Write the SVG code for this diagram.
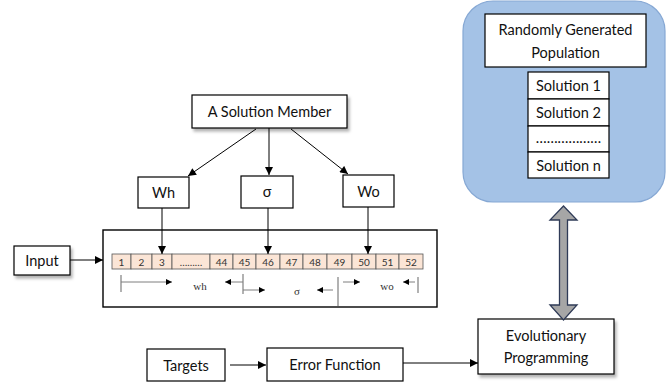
<svg xmlns="http://www.w3.org/2000/svg" width="668" height="383" viewBox="0 0 668 383">
  <defs>
    <style>
      .box { fill: #ffffff; stroke: #000000; stroke-width: 1.2; }
      .lbl { font-family: Lato, "Liberation Sans", sans-serif; font-size: 14.5px; fill: #111111; text-anchor: middle; dominant-baseline: central; }
      .cell { fill: #fbe5d6; stroke: #555555; stroke-width: 0.8; }
      .num { font-family: Lato, "Liberation Sans", sans-serif; font-size: 10px; fill: #333333; text-anchor: middle; dominant-baseline: central; }
      .span { font-family: "Liberation Serif", serif; font-size: 11px; fill: #333333; text-anchor: middle; dominant-baseline: central; }
      .wire { fill: none; stroke: #000000; stroke-width: 1; }
      .guide { fill: none; stroke: #7f7f7f; stroke-width: 1; }
      .tick { fill: none; stroke: #7f7f7f; stroke-width: 1.2; }
    </style>
    <marker id="head" viewBox="0 0 10 10" refX="10" refY="5" markerWidth="9" markerHeight="8" markerUnits="userSpaceOnUse" orient="auto">
      <path d="M0,0 L10,5 L0,10 Z" fill="#000000"/>
    </marker>
    <marker id="small" viewBox="0 0 10 10" refX="10" refY="5" markerWidth="7" markerHeight="6" markerUnits="userSpaceOnUse" orient="auto">
      <path d="M0,0 L10,5 L0,10 Z" fill="#000000"/>
    </marker>
    <filter id="shadow" x="-10%" y="-20%" width="130%" height="160%">
      <feDropShadow dx="2" dy="3" stdDeviation="1.6" flood-color="#000000" flood-opacity="0.3"/>
    </filter>
  </defs>

  <rect width="668" height="383" fill="#ffffff"/>

  <!-- population panel -->
  <g id="population">
    <rect x="463" y="1" width="202" height="201" rx="30" ry="30" fill="#a4c2e6" stroke="#86a8d4" stroke-width="1.2"/>
    <rect class="box" x="485" y="14" width="161" height="53"/>
    <text class="lbl" x="565.5" y="29">Randomly Generated</text>
    <text class="lbl" x="565.5" y="52">Population</text>
    <rect class="box" x="528" y="72" width="81" height="27"/>
    <text class="lbl" x="568.5" y="85.5">Solution 1</text>
    <rect class="box" x="528" y="99" width="81" height="27"/>
    <text class="lbl" x="568.5" y="112.5">Solution 2</text>
    <rect class="box" x="528" y="126" width="81" height="26"/>
    <text class="lbl" x="568.5" y="137">………………</text>
    <rect class="box" x="528" y="152" width="81" height="26"/>
    <text class="lbl" x="568.5" y="165">Solution n</text>
  </g>

  <!-- solution member and its parts -->
  <g id="solution-member">
    <rect class="box" x="192" y="95" width="155" height="33" filter="url(#shadow)"/>
    <text class="lbl" x="269.5" y="111.5">A Solution Member</text>
  </g>
  <g id="wh">
    <rect class="box" x="138" y="177" width="51" height="31"/>
    <text class="lbl" x="163.5" y="192.5">Wh</text>
  </g>
  <g id="sigma">
    <rect class="box" x="241" y="176" width="52" height="32"/>
    <text class="lbl" x="267" y="191.5">σ</text>
  </g>
  <g id="wo">
    <rect class="box" x="343" y="175" width="51" height="32"/>
    <text class="lbl" x="368.5" y="191">Wo</text>
  </g>

  <!-- encoded vector -->
  <g id="vector">
    <rect x="103" y="230" width="334" height="77" fill="#ffffff" stroke="#000000" stroke-width="1.4"/>
    <rect class="cell" x="112" y="254" width="19" height="15"/>
    <rect class="cell" x="131" y="254" width="21" height="15"/>
    <rect class="cell" x="152" y="254" width="20" height="15"/>
    <rect class="cell" x="172" y="254" width="38" height="15"/>
    <rect class="cell" x="210" y="254" width="23" height="15"/>
    <rect class="cell" x="233" y="254" width="23" height="15"/>
    <rect class="cell" x="256" y="254" width="24" height="15"/>
    <rect class="cell" x="280" y="254" width="23" height="15"/>
    <rect class="cell" x="303" y="254" width="24" height="15"/>
    <rect class="cell" x="327" y="254" width="25" height="15"/>
    <rect class="cell" x="352" y="254" width="24" height="15"/>
    <rect class="cell" x="376" y="254" width="23" height="15"/>
    <rect class="cell" x="399" y="254" width="24" height="15"/>
    <text class="num" x="121.5" y="261.5">1</text>
    <text class="num" x="141.5" y="261.5">2</text>
    <text class="num" x="162" y="261.5">3</text>
    <text class="num" x="191" y="261.5">………</text>
    <text class="num" x="221.5" y="261.5">44</text>
    <text class="num" x="244.5" y="261.5">45</text>
    <text class="num" x="268" y="261.5">46</text>
    <text class="num" x="291.5" y="261.5">47</text>
    <text class="num" x="315" y="261.5">48</text>
    <text class="num" x="339.5" y="261.5">49</text>
    <text class="num" x="364" y="261.5">50</text>
    <text class="num" x="387.5" y="261.5">51</text>
    <text class="num" x="411" y="261.5">52</text>

    <!-- index ranges -->
    <path class="tick" d="M121,275 V292"/>
    <path class="guide" d="M121,282 H172" marker-end="url(#small)"/>
    <text class="span" x="200" y="286">wh</text>
    <path class="guide" d="M243,282 H225" marker-end="url(#small)"/>
    <path class="tick" d="M243,274 V294"/>
    <path class="guide" d="M243,290 H265" marker-end="url(#small)"/>
    <text class="span" x="297" y="291">σ</text>
    <path class="guide" d="M333,290 H317" marker-end="url(#small)"/>
    <path class="tick" d="M338,277 V306"/>
    <path class="guide" d="M343,282 H360" marker-end="url(#small)"/>
    <text class="span" x="387" y="286">wo</text>
    <path class="guide" d="M415,282 H403" marker-end="url(#small)"/>
    <path class="tick" d="M418,277 V293"/>
  </g>

  <g id="input">
    <rect class="box" x="14" y="246" width="56" height="29" filter="url(#shadow)"/>
    <text class="lbl" x="42" y="260.5">Input</text>
  </g>

  <g id="targets">
    <rect class="box" x="147" y="349" width="78" height="32"/>
    <text class="lbl" x="186" y="365">Targets</text>
  </g>

  <g id="error-function">
    <rect class="box" x="267" y="348" width="136" height="33"/>
    <text class="lbl" x="335" y="364.5">Error Function</text>
  </g>

  <g id="evolutionary-programming">
    <rect class="box" x="478" y="319" width="136" height="55" filter="url(#shadow)"/>
    <text class="lbl" x="546" y="335">Evolutionary</text>
    <text class="lbl" x="546" y="357">Programming</text>
  </g>

  <!-- connectors -->
  <g id="connectors">
    <path class="wire" d="M256,129 L188,176" marker-end="url(#head)"/>
    <path class="wire" d="M269,128 V175" marker-end="url(#head)"/>
    <path class="wire" d="M291,129 L348,174" marker-end="url(#head)"/>
    <path class="wire" d="M162,208 V254" marker-end="url(#head)"/>
    <path class="wire" d="M268,208 V254" marker-end="url(#head)"/>
    <path class="wire" d="M368,207 V254" marker-end="url(#head)"/>
    <path class="wire" d="M70,260 H103" marker-end="url(#head)"/>
    <path class="wire" d="M230,365 H266" marker-end="url(#head)"/>
    <path class="wire" d="M403,363 H478" marker-end="url(#head)"/>
    <path d="M563.5,206 L577,220 L567.5,220 L567.5,305 L577,305 L563.5,320 L550,305 L559.5,305 L559.5,220 L550,220 Z" fill="#a6a6a6" stroke="#2f3b57" stroke-width="1.3" stroke-linejoin="miter"/>
  </g>
</svg>
